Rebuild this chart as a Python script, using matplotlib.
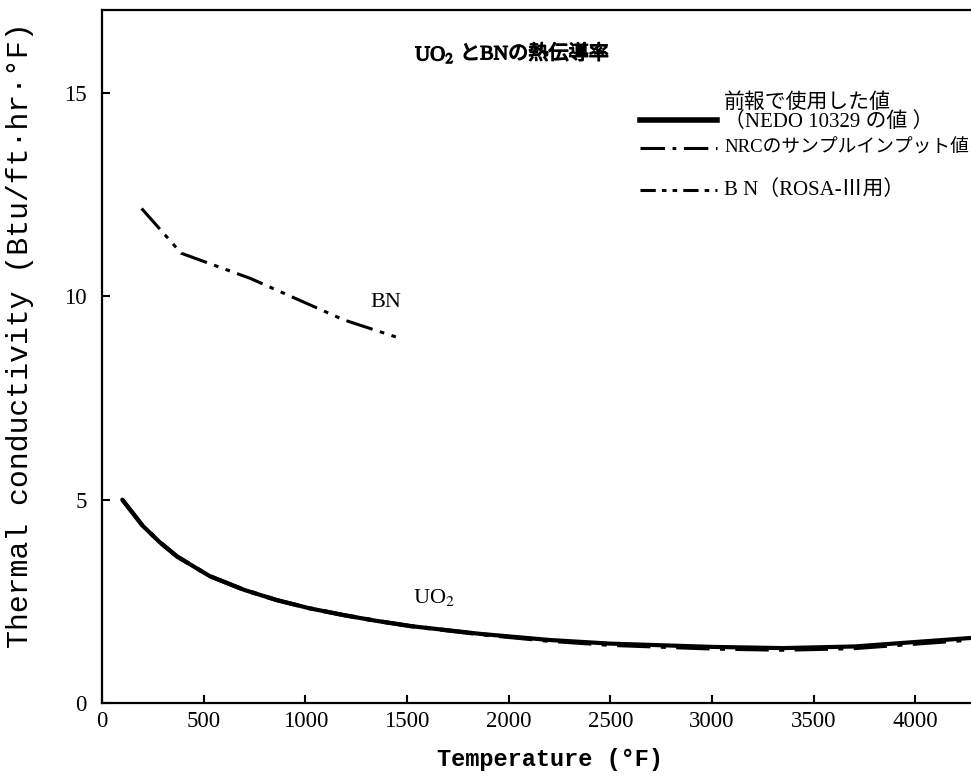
"""UO2 and BN thermal conductivity versus temperature."""

from __future__ import annotations

import matplotlib

matplotlib.use("Agg")
import matplotlib.patheffects as pe
import matplotlib.pyplot as plt

# ------------------------------------------------------------
# Data (temperature in °F, conductivity in Btu/ft·hr·°F)
# ------------------------------------------------------------
UO2_TEMP = [100, 200, 285, 370, 530, 700, 860, 1020, 1190, 1350, 1520,
            1860, 2200, 2500, 3000, 3350, 3700, 4000, 4275]
UO2_K = [5.0, 4.36, 3.95, 3.60, 3.12, 2.78, 2.53, 2.33, 2.16, 2.02, 1.89,
         1.70, 1.55, 1.46, 1.38, 1.35, 1.39, 1.50, 1.60]

# NRC sample input: follows the NEDO curve, a little lower at high T
NRC_TEMP = [100, 200, 285, 370, 530, 700, 860, 1020, 1190, 1350, 1520,
            1860, 2200, 2500, 3000, 3350, 3700, 4000, 4275]
NRC_K = [5.0, 4.36, 3.95, 3.60, 3.12, 2.78, 2.53, 2.33, 2.16, 2.02, 1.89,
         1.69, 1.53, 1.43, 1.34, 1.31, 1.35, 1.46, 1.56]

BN_TEMP = [195, 390, 730, 1190, 1465]
BN_K = [12.16, 11.06, 10.44, 9.42, 8.97]

X_TICKS = [0, 500, 1000, 1500, 2000, 2500, 3000, 3500, 4000]
Y_TICKS = [0, 5, 10, 15]

LEGEND_LABELS = [
    "前報で使用した値\n（NEDO 10329 の値 ）",
    "NRCのサンプルインプット値",
    "B N（ROSA-Ⅲ用）",
]

# ------------------------------------------------------------
# Styling
# ------------------------------------------------------------
FONTS = ["Liberation Serif", "Noto Sans CJK JP"]
MONO = ["Liberation Mono", "DejaVu Sans Mono"]
INK = "black"
DASH_DOT = (0, (8, 2.5, 1.2, 2.5))
DASH_DOT_DOT = (0, (9, 2.5, 1.5, 2.5, 1.5, 2.5))
HEAVY = [pe.withStroke(linewidth=0.9, foreground=INK)]

plt.rcParams["font.family"] = FONTS
plt.rcParams["mathtext.fontset"] = "stix"


def draw_conductivity() -> None:
    """Draw the conductivity curves with a hand-placed legend."""
    fig = plt.figure(figsize=(9.71, 7.78), dpi=100)
    ax = fig.add_axes([0.1050, 0.0964, 0.8950, 0.8907])
    ax.set_xlim(0, 4274)
    ax.set_ylim(0, 17.04)

    # Curves
    ax.plot(NRC_TEMP, NRC_K, color=INK, lw=3.0, linestyle=DASH_DOT,
            solid_capstyle="round")
    ax.plot(UO2_TEMP, UO2_K, color=INK, lw=3.0, solid_capstyle="round",
            solid_joinstyle="round")
    ax.plot(BN_TEMP, BN_K, color=INK, lw=2.2, linestyle=DASH_DOT_DOT)

    # Curve labels
    ax.text(1530, 2.6, "UO$_2$", fontsize=16, ha="left", va="center")
    ax.text(1318, 9.84, "BN", fontsize=16, ha="left", va="center")

    # Heading: formula as mathtext, Japanese part placed right after it
    head = ax.text(1540, 15.93, "UO$_2$", fontsize=15, ha="left",
                   va="center", path_effects=HEAVY)
    ax.annotate("とBNの熱伝導率", xy=(1, 0.52), xycoords=head,
                xytext=(4, 0), textcoords="offset points", fontsize=14.5,
                ha="left", va="center", path_effects=HEAVY)

    # Legend drawn by hand
    tr = ax.transAxes
    ax.plot([0.619, 0.708], [0.841, 0.841], color=INK, lw=4.0,
            transform=tr, clip_on=False)
    ax.plot([0.619, 0.708], [0.801, 0.801], color=INK, lw=2.2,
            linestyle=DASH_DOT, transform=tr, clip_on=False)
    ax.plot([0.619, 0.708], [0.740, 0.740], color=INK, lw=2.2,
            linestyle=(0, (5, 2, 1.5, 2, 1.5, 2)), transform=tr, clip_on=False)
    ax.text(0.716, 0.852, LEGEND_LABELS[0], transform=tr, fontsize=15,
            ha="left", va="center", linespacing=0.95)
    ax.text(0.716, 0.801, LEGEND_LABELS[1], transform=tr, fontsize=13.5,
            ha="left", va="center")
    ax.text(0.716, 0.740, LEGEND_LABELS[2], transform=tr, fontsize=15,
            ha="left", va="center")

    # Axes frame and ticks
    ax.spines["right"].set_visible(False)
    for side in ("left", "bottom", "top"):
        ax.spines[side].set_linewidth(1.6)
    ax.set_xticks(X_TICKS)
    ax.set_yticks(Y_TICKS)
    ax.tick_params(direction="in", length=6, width=1.5, labelsize=16.5)
    ax.tick_params(axis="x", pad=6)
    ax.tick_params(axis="y", pad=11)

    ax.set_xlabel("Temperature (°F)", family=MONO, fontsize=17,
                  fontweight="bold")
    ax.set_ylabel("Thermal conductivity (Btu/ft·hr·°F)", family=MONO,
                  fontsize=21.5)
    ax.xaxis.set_label_coords(0.516, -0.082)
    ax.xaxis.label.set_va("center")
    ax.yaxis.set_label_coords(-0.094, 0.531)
    ax.yaxis.label.set_va("center")

    fig.savefig("out.png", dpi=100, facecolor="white")
    plt.close(fig)


if __name__ == "__main__":
    draw_conductivity()
